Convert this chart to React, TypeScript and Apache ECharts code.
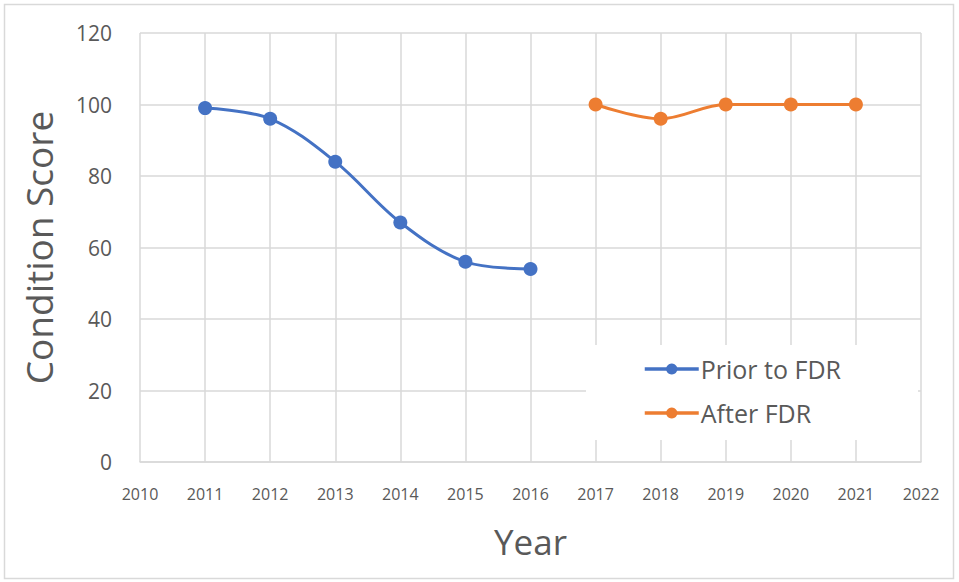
import React, { useEffect, useRef } from "react";
import * as echarts from "echarts";

const priorYears = [2011, 2012, 2013, 2014, 2015, 2016];
const priorScores = [99, 96, 84, 67, 56, 54];
const afterYears = [2017, 2018, 2019, 2020, 2021];
const afterScores = [100, 96, 100, 100, 100];
const seriesNames = ["Prior to FDR", "After FDR"];
const colors = ["#4472C4", "#ED7D31"];

const FONT = "'Open Sans', 'Noto Sans', sans-serif";

export default function App() {
  const ref = useRef<HTMLDivElement>(null);
  useEffect(() => {
    document.body.style.margin = "0";
    const chart = echarts.init(ref.current!, null, { renderer: "svg" });
    const mk = (xs: number[], ys: number[]) => xs.map((x, i) => [x, ys[i]]);
    chart.setOption({
      animation: false,
      backgroundColor: "#ffffff",
      graphic: [
        {
          type: "rect",
          shape: { x: 4.5, y: 4.5, width: 949, height: 574 },
          style: { fill: "none", stroke: "#d9d9d9", lineWidth: 1.5 },
          z: 0,
        },
        {
          type: "rect",
          shape: { x: 586, y: 345, width: 332, height: 95 },
          style: { fill: "#ffffff" },
          z: 3,
        },
      ],
      grid: { left: 140, right: 38, top: 33, bottom: 120 },
      xAxis: {
        type: "value",
        min: 2010,
        max: 2022,
        interval: 1,
        name: "Year",
        nameLocation: "middle",
        nameGap: 62,
        nameTextStyle: { fontSize: 35, color: "#595959", fontFamily: FONT },
        axisLine: { show: true, lineStyle: { color: "#d9d9d9", width: 1.5 } },
        axisTick: { show: false },
        axisLabel: {
          color: "#595959",
          fontSize: 16,
          fontFamily: FONT,
          margin: 24,
          formatter: (v: number) => String(v),
        },
        splitLine: { show: true, lineStyle: { color: "#d9d9d9", width: 1.5 } },
      },
      yAxis: {
        type: "value",
        min: 0,
        max: 120,
        interval: 20,
        name: "Condition Score",
        nameLocation: "middle",
        nameGap: 83,
        nameTextStyle: { fontSize: 37, color: "#595959", fontFamily: FONT },
        axisLine: { show: false },
        axisTick: { show: false },
        axisLabel: { color: "#595959", fontSize: 21, fontFamily: FONT, margin: 28 },
        splitLine: { show: true, lineStyle: { color: "#d9d9d9", width: 1.5 } },
      },
      legend: {
        orient: "vertical",
        left: 643,
        top: 355,
        padding: 0,
        itemGap: 16,
        itemWidth: 54,
        itemHeight: 14,
        lineStyle: { width: 3.5 },
        textStyle: {
          fontSize: 25,
          lineHeight: 28,
          color: "#595959",
          fontFamily: FONT,
          padding: [0, 0, 0, -3],
        },
        z: 5,
        data: seriesNames,
      },
      series: [
        {
          name: seriesNames[0],
          type: "line",
          smooth: 0.35,
          data: mk(priorYears, priorScores),
          symbol: "circle",
          symbolSize: 14,
          itemStyle: { color: colors[0] },
          lineStyle: { color: colors[0], width: 3 },
        },
        {
          name: seriesNames[1],
          type: "line",
          smooth: 0.35,
          data: mk(afterYears, afterScores),
          symbol: "circle",
          symbolSize: 14,
          itemStyle: { color: colors[1] },
          lineStyle: { color: colors[1], width: 3 },
        },
      ],
    });
    return () => chart.dispose();
  }, []);
  return <div ref={ref} style={{ width: 959, height: 582 }} />;
}
